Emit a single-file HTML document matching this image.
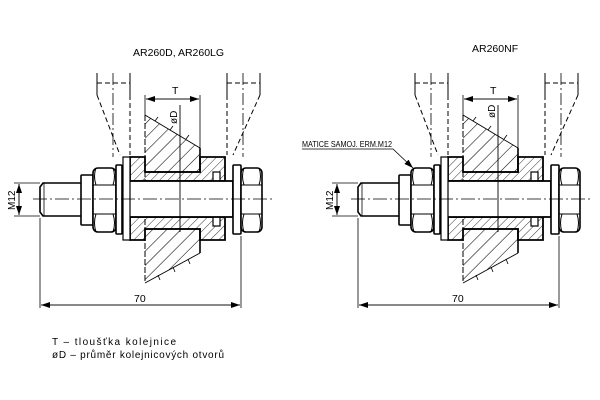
<!DOCTYPE html>
<html><head><meta charset="utf-8"><style>
html,body{margin:0;padding:0;background:#fff}
svg{display:block}
text{font-family:"Liberation Sans",sans-serif;fill:#000}
</style></head><body>
<svg width="600" height="400" viewBox="0 0 600 400" xmlns="http://www.w3.org/2000/svg">
<defs>
<pattern id="hb" patternUnits="userSpaceOnUse" width="10" height="10" patternTransform="rotate(45)">
<line x1="0" y1="0" x2="0" y2="10" stroke="#000" stroke-width="1.1"/></pattern>
<pattern id="hs" patternUnits="userSpaceOnUse" width="6" height="6" patternTransform="rotate(45)">
<line x1="0" y1="0" x2="0" y2="6" stroke="#000" stroke-width="0.8"/></pattern>
<marker id="ar" markerWidth="10" markerHeight="6" refX="9" refY="3" orient="auto" markerUnits="userSpaceOnUse">
<path d="M0,0 L9,3 L0,6 Z" fill="#000"/></marker>
<g id="asm" fill="none" stroke="#000">
 <g stroke-width="1">
  <line x1="97" y1="73" x2="97" y2="95"/><line x1="130" y1="73" x2="130" y2="95"/>
  <line x1="227" y1="73" x2="227" y2="95"/><line x1="260" y1="73" x2="260" y2="95"/>
 </g>
 <g stroke-width="1" stroke-dasharray="5,3">
  <line x1="97" y1="83" x2="130" y2="83"/><line x1="227" y1="83" x2="260" y2="83"/>
  <line x1="97" y1="95" x2="120" y2="155"/><line x1="130" y1="95" x2="130" y2="155"/>
  <line x1="260" y1="95" x2="233" y2="155"/><line x1="227" y1="95" x2="227" y2="155"/>
 </g>
 <g stroke-width="0.8" stroke-dasharray="12,3,2,3">
  <line x1="113" y1="73" x2="113" y2="157"/><line x1="243" y1="73" x2="243" y2="157"/>
 </g>
 <!-- rail -->
 <path d="M145,115 L200,148 L200,172 L145,172 Z" fill="url(#hb)" stroke="none"/>
 <path d="M145,172 L200,172 L200,148" stroke-width="1.6"/>
 <line x1="145" y1="115" x2="200" y2="148" stroke-width="0.9"/>
 <path d="M145,229 L200,229 L200,253 L145,283 Z" fill="url(#hb)" stroke="none"/>
 <path d="M145,229 L200,229 L200,253" stroke-width="1.6"/>
 <line x1="145" y1="283" x2="200" y2="253" stroke-width="0.9"/>
 <path d="M155,121 l3,-4 M170,130 l3,-4 M186,139 l3,-4 M160,280 l-2,-5 M175,272 l-2,-5 M190,264 l-2,-5" stroke-width="0.8"/>
 <line x1="145" y1="115" x2="145" y2="283" stroke-dasharray="6,2" stroke-width="1"/>
 <!-- bushing -->
 <path d="M130,157 L145,157 L145,172 L200,172 L200,157 L225,157 L225,181 L130,181 Z" fill="url(#hs)" stroke-width="1.8"/>
 <path d="M130,217 L225,217 L225,240 L200,240 L200,229 L145,229 L145,240 L130,240 Z" fill="url(#hs)" stroke-width="1.8"/>
 <rect x="213" y="172" width="7" height="9" fill="#fff" stroke-width="1.2"/>
 <rect x="213" y="217" width="7" height="9" fill="#fff" stroke-width="1.2"/>
 <!-- bolt shank -->
 <rect x="123" y="181" width="110" height="36" fill="#fff" stroke-width="1.8"/>
 <rect x="123" y="157" width="7" height="83" fill="#fff" stroke-width="1.2"/>
 <!-- stud -->
 <path d="M82,183 L43,183 L40,187 L40,212 L43,216 L82,216" fill="#fff" stroke-width="1.6"/>
 <line x1="44" y1="183" x2="44" y2="216" stroke-width="0.8"/>
 <rect x="81" y="175" width="12" height="50" rx="1" fill="#fff" stroke-width="1.6"/>
 <!-- hex nut left -->
 <rect x="93" y="168" width="23" height="64" rx="5" fill="#fff" stroke-width="1.6"/>
 <line x1="93" y1="185" x2="116" y2="185" stroke-width="1"/><line x1="93" y1="214" x2="116" y2="214" stroke-width="1"/>
 <path d="M96,168 Q93,176 96,185 M113,168 Q116,176 113,185 M96,214 Q93,223 96,232 M113,214 Q116,223 113,232" stroke-width="1"/>
 <rect x="116" y="165" width="6" height="69" rx="1" fill="#fff" stroke-width="1.6"/>
 <rect x="233" y="165" width="8" height="69" rx="1" fill="#fff" stroke-width="1.6"/>
 <!-- hex nut right -->
 <rect x="241" y="168" width="21" height="64" rx="5" fill="#fff" stroke-width="1.6"/>
 <line x1="241" y1="185" x2="262" y2="185" stroke-width="1"/><line x1="241" y1="214" x2="262" y2="214" stroke-width="1"/>
 <path d="M244,168 Q241,176 244,185 M259,168 Q262,176 259,185 M244,214 Q241,223 244,232 M259,214 Q262,223 259,232" stroke-width="1"/>
 <!-- center lines -->
 <line x1="33" y1="199" x2="275" y2="199" stroke-width="0.8" stroke-dasharray="14,3,2,3"/>
 <line x1="180" y1="105" x2="180" y2="232" stroke-width="0.9"/>
 <!-- T dim -->
 <line x1="145" y1="95" x2="145" y2="115" stroke-width="0.8"/>
 <line x1="200" y1="95" x2="200" y2="148" stroke-width="0.8"/>
 <line x1="146" y1="99" x2="199" y2="99" stroke-width="0.8" marker-end="url(#ar)"/>
 <line x1="199" y1="99" x2="146" y2="99" stroke-width="0.8" marker-end="url(#ar)"/>
 <!-- 70 dim -->
 <line x1="40" y1="218" x2="40" y2="308" stroke-width="0.8"/>
 <line x1="241" y1="236" x2="241" y2="308" stroke-width="0.8"/>
 <line x1="41" y1="305" x2="240" y2="305" stroke-width="0.8" marker-end="url(#ar)"/>
 <line x1="240" y1="305" x2="41" y2="305" stroke-width="0.8" marker-end="url(#ar)"/>
 <!-- M12 dim -->
 <line x1="14" y1="183" x2="40" y2="183" stroke-width="0.8"/>
 <line x1="14" y1="216" x2="40" y2="216" stroke-width="0.8"/>
 <line x1="19" y1="184" x2="19" y2="215" stroke-width="0.8" marker-end="url(#ar)"/>
 <line x1="19" y1="215" x2="19" y2="184" stroke-width="0.8" marker-end="url(#ar)"/>
</g>
</defs>

<use href="#asm"/>
<use href="#asm" transform="translate(318,0)"/>

<text x="133" y="56" font-size="10.5">AR260D, AR260LG</text>
<text x="472" y="52" font-size="10.5">AR260NF</text>

<text x="172" y="94" font-size="10.5">T</text>
<text x="490" y="94" font-size="10.5">T</text>
<text transform="translate(177,124) rotate(-90)" font-size="10">øD</text>
<text transform="translate(495,118) rotate(-90)" font-size="10">øD</text>
<text transform="translate(15,210) rotate(-90)" font-size="10">M12</text>
<text transform="translate(333,210) rotate(-90)" font-size="10">M12</text>
<text x="134" y="302" font-size="10.5">70</text>
<text x="452" y="302" font-size="10.5">70</text>

<text x="302" y="147" font-size="8.5" textLength="90" lengthAdjust="spacingAndGlyphs">MATICE SAMOJ. ERM.M12</text>
<polyline points="302,149 393,149 413,168" fill="none" stroke="#000" stroke-width="0.8" marker-end="url(#ar)"/>

<text x="52" y="345" font-size="10" textLength="124" lengthAdjust="spacing">T – tloušťka kolejnice</text>
<text x="52" y="358" font-size="10" textLength="172" lengthAdjust="spacing">øD – průměr kolejnicových otvorů</text>
</svg>
</body></html>
